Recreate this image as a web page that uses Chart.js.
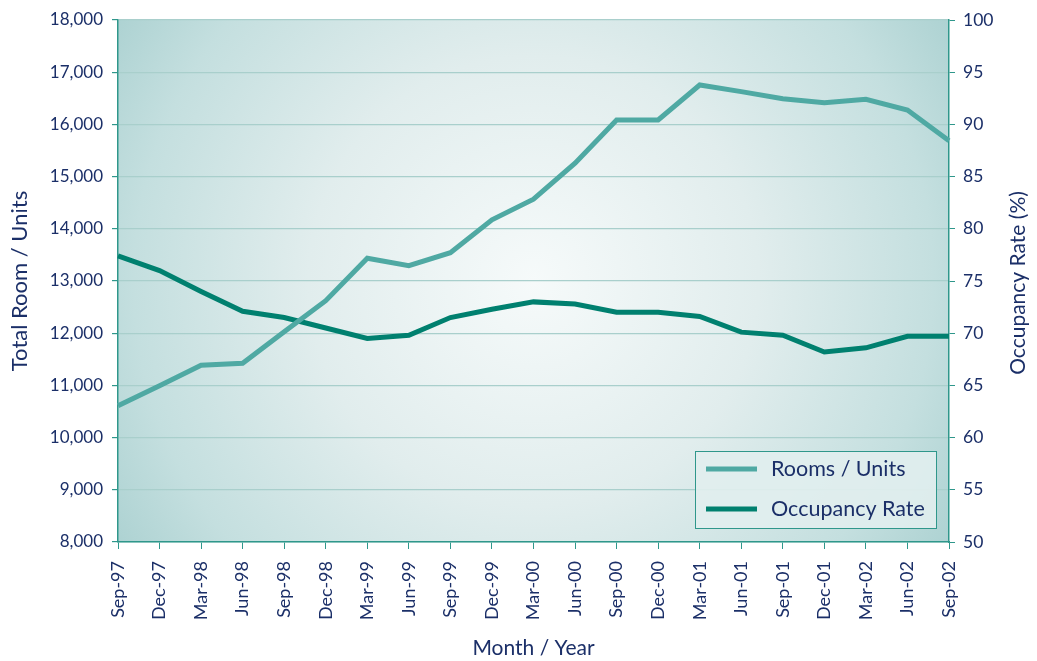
<!DOCTYPE html>
<html>
<head>
<meta charset="utf-8">
<script src="https://cdn.jsdelivr.net/npm/chart.js@4.4.1/dist/chart.umd.min.js"></script>
<style>
html,body{margin:0;padding:0;background:#ffffff;}
#wrap{width:1037px;height:661px;position:relative;}
</style>
</head>
<body>
<div id="wrap"><canvas id="c" width="1037" height="661"></canvas></div>
<script>
const categories = ["Sep-97","Dec-97","Mar-98","Jun-98","Sep-98","Dec-98","Mar-99","Jun-99","Sep-99","Dec-99","Mar-00","Jun-00","Sep-00","Dec-00","Mar-01","Jun-01","Sep-01","Dec-01","Mar-02","Jun-02","Sep-02"];
const roomsUnits = [10611,10995,11385,11423,12029,12623,13435,13293,13543,14172,14567,15257,16084,16084,16755,16628,16492,16416,16480,16276,15688];
const occupancyRate = [77.4,76.0,74.0,72.1,71.5,70.5,69.5,69.8,71.5,72.3,73.0,72.8,72.0,72.0,71.6,70.1,69.8,68.2,68.6,69.7,69.7];
const seriesNames = ["Rooms / Units","Occupancy Rate"];
const leftTitle = "Total Room / Units";
const rightTitle = "Occupancy Rate (%)";
const xTitle = "Month / Year";

const NAVY = "#1b2f68";
const TEAL_LIGHT = "#4fa9a3";
const TEAL_DARK = "#00806f";
const AXIS = "#2f978b";
const GRID = "#a9cfcc";
const FONT = "Lato, 'Open Sans', sans-serif";

const bgPlugin = {
  id: 'bg',
  beforeDraw(chart) {
    const {ctx, chartArea: a} = chart;
    const cx = a.left + (a.right - a.left) * 0.5;
    const cy = a.top + (a.bottom - a.top) * 0.5;
    const g = ctx.createRadialGradient(cx, cy, 0, cx, cy, 500);
    g.addColorStop(0, "#f6fafa");
    g.addColorStop(0.45, "#e1eded");
    g.addColorStop(0.8, "#c4dfdf");
    g.addColorStop(1, "#abd1d1");
    ctx.save();
    ctx.fillStyle = g;
    ctx.fillRect(a.left, a.top, a.right - a.left, a.bottom - a.top);
    ctx.restore();
  },
  afterDraw(chart) {
    const {ctx} = chart;
    ctx.save();
    ctx.fillStyle = NAVY;
    ctx.font = "21px " + FONT;
    ctx.textAlign = "center";
    ctx.textBaseline = "middle";
    ctx.translate(1018, 283);
    ctx.rotate(-Math.PI / 2);
    ctx.fillText(rightTitle, 0, 0);
    ctx.restore();
    const bx = 695, by = 451, bw = 242, bh = 78;
    ctx.save();
    ctx.fillStyle = "rgba(225,238,238,0.9)";
    ctx.fillRect(bx, by, bw, bh);
    ctx.strokeStyle = AXIS;
    ctx.lineWidth = 1;
    ctx.strokeRect(bx + 0.5, by + 0.5, bw - 1, bh - 1);
    const ds = chart.data.datasets;
    const rows = [469, 509];
    ds.forEach((d, i) => {
      ctx.strokeStyle = d.borderColor;
      ctx.lineWidth = 5;
      ctx.beginPath();
      ctx.moveTo(706, rows[i]);
      ctx.lineTo(757, rows[i]);
      ctx.stroke();
      ctx.fillStyle = NAVY;
      ctx.font = "21.5px " + FONT;
      ctx.textAlign = "left";
      ctx.textBaseline = "middle";
      ctx.fillText(d.label, 771, rows[i]);
    });
    ctx.restore();
  }
};

new Chart(document.getElementById('c'), {
  type: 'line',
  data: {
    labels: categories,
    datasets: [
      {label: seriesNames[0], data: roomsUnits, yAxisID: 'yL', borderColor: TEAL_LIGHT, backgroundColor: TEAL_LIGHT, borderWidth: 5, pointRadius: 0, tension: 0, fill: false},
      {label: seriesNames[1], data: occupancyRate, yAxisID: 'yR', borderColor: TEAL_DARK, backgroundColor: TEAL_DARK, borderWidth: 5, pointRadius: 0, tension: 0, fill: false}
    ]
  },
  options: {
    responsive: false,
    animation: false,
    layout: {padding: {top: 20, left: 0, right: 0, bottom: 0}},
    plugins: {legend: {display: false}, tooltip: {enabled: false}},
    scales: {
      x: {
        type: 'category',
        offset: false,
        grid: {drawOnChartArea: false, drawTicks: true, tickLength: 7, tickColor: AXIS},
        border: {color: AXIS, width: 1.5},
        ticks: {color: NAVY, font: {family: FONT, size: 18}, minRotation: 90, maxRotation: 90, autoSkip: false, padding: 12},
        title: {display: true, text: xTitle, color: NAVY, font: {family: FONT, size: 21}, padding: {top: 0, bottom: 0}},
        afterFit(s) { s.height = 119; }
      },
      yL: {
        position: 'left',
        min: 8000, max: 18000,
        grid: {color: GRID, lineWidth: 1.2, tickLength: 6, tickColor: AXIS},
        border: {color: AXIS, width: 1.5},
        ticks: {stepSize: 1000, color: NAVY, font: {family: FONT, size: 17}, padding: 9,
                callback: v => v.toLocaleString('en-US')},
        title: {display: true, text: leftTitle, color: NAVY, font: {family: FONT, size: 22}, padding: {top: 7, bottom: 0}},
        afterFit(s) { s.width = 118; }
      },
      yR: {
        position: 'right',
        min: 50, max: 100,
        grid: {drawOnChartArea: false, tickLength: 6, tickColor: AXIS},
        border: {color: AXIS, width: 1.5},
        ticks: {stepSize: 5, color: NAVY, font: {family: FONT, size: 17.5}, padding: 8},
        afterFit(s) { s.width = 88; }
      }
    }
  },
  plugins: [bgPlugin]
});
</script>
</body>
</html>
